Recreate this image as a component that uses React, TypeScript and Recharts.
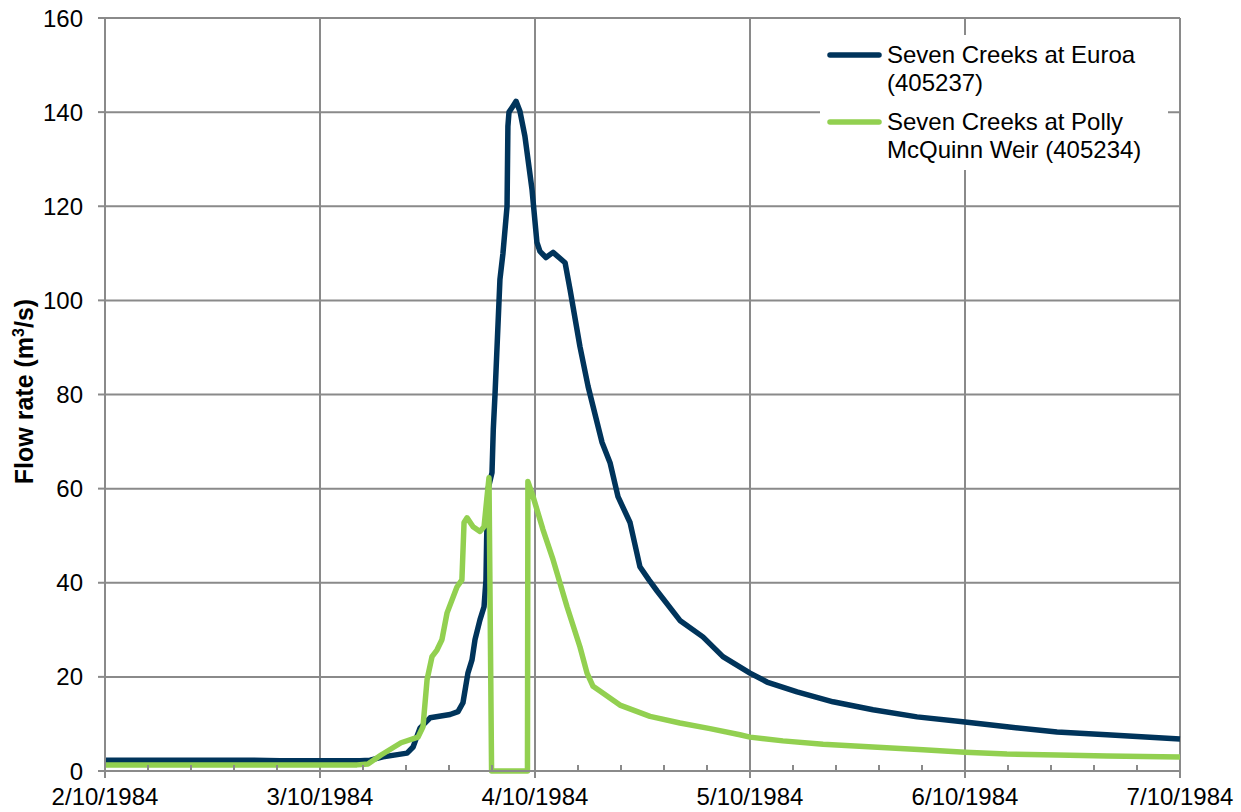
import { CartesianGrid, Legend, Line, LineChart, XAxis, YAxis } from "recharts";

const dateLabels = ["2/10/1984", "3/10/1984", "4/10/1984", "5/10/1984", "6/10/1984", "7/10/1984"];
const majorDays = [0, 1, 2, 3, 4, 5];
const minorDays = Array.from({ length: 26 }, (_, i) => i / 5);
const flowTicks = [0, 20, 40, 60, 80, 100, 120, 140, 160];

// time in days after 2/10/1984 00:00, flow in m3/s
const euroaDays = [
  0, 0.674, 0.814, 1.186, 1.233, 1.293, 1.405, 1.433, 1.465, 1.512, 1.605, 1.642, 1.665, 1.688, 1.707,
  1.721, 1.744, 1.763, 1.772, 1.775, 1.781, 1.8, 1.806, 1.814, 1.837, 1.851, 1.87, 1.874, 1.879, 1.898,
  1.912, 1.93, 1.953, 1.986, 2.009, 2.023, 2.051, 2.084, 2.14, 2.163, 2.209, 2.247, 2.312, 2.349, 2.386,
  2.442, 2.488, 2.53, 2.567, 2.674, 2.781, 2.874, 3.0, 3.079, 3.219, 3.386, 3.572, 3.777, 4.0, 4.195, 4.428,
  4.66, 5.0,
];
const euroaFlow = [
  2.3, 2.3, 2.2, 2.2, 2.3, 3.0, 3.8, 5.1, 9.1, 11.3, 12.0, 12.6, 14.5, 20.8, 23.6,
  27.9, 32.1, 34.9, 40.6, 49.0, 59.8, 63.4, 72.6, 80.0, 104.5, 110.0, 120.0, 137.0, 140.0, 141.3,
  142.3, 140.2, 134.9, 123.6, 112.3, 110.4, 109.1, 110.2, 108.0, 102.3, 90.2, 81.7, 69.8, 65.5, 58.3,
  52.8, 43.4, 40.6, 38.3, 32.0, 28.5, 24.3, 20.8, 18.9, 16.8, 14.7, 13.0, 11.5, 10.4, 9.4, 8.3,
  7.7, 6.8,
];

const pollyDays = [
  0, 1.172, 1.223, 1.284, 1.377, 1.456, 1.479, 1.498, 1.521, 1.544, 1.567, 1.591, 1.637, 1.66, 1.67,
  1.684, 1.712, 1.744, 1.763, 1.777, 1.786, 1.798, 1.965, 1.967, 1.991, 2.037, 2.084, 2.149, 2.209,
  2.242, 2.27, 2.302, 2.395, 2.535, 2.674, 2.814, 2.953, 3.0, 3.153, 3.34, 3.572, 3.805, 4.0, 4.195,
  4.428, 4.66, 5.0,
];
const pollyFlow = [
  1.3, 1.3, 1.5, 3.4, 6.0, 7.2, 9.4, 19.4, 24.3, 25.7, 27.9, 33.6, 39.1, 40.6, 52.8,
  53.8, 51.9, 50.9, 51.9, 58.3, 62.3, 0, 0, 61.5, 58.3, 51.3, 44.9, 34.9, 26.4,
  20.8, 18.0, 17.0, 14.0, 11.6, 10.2, 9.0, 7.7, 7.2, 6.4, 5.7, 5.1, 4.5, 4.0, 3.6,
  3.4, 3.2, 3.0,
];

const euroa = euroaDays.map((t, i) => ({ t, q: euroaFlow[i] }));
const polly = pollyDays.map((t, i) => ({ t, q: pollyFlow[i] }));

const series = [
  { name: "Seven Creeks at Euroa (405237)", color: "#00345b" },
  { name: "Seven Creeks at Polly McQuinn Weir (405234)", color: "#92d050" },
];

const gridColor = "#8a8a8a";

function DayTick(props: any) {
  const { x, y, payload } = props;
  const v = payload.value;
  const idx = Math.round(v);
  if (Math.abs(v - idx) > 1e-6) {
    return <line x1={x} x2={x} y1={y} y2={y - 6} stroke={gridColor} strokeWidth={2} />;
  }
  return (
    <g>
      <line x1={x} x2={x} y1={y} y2={y + 7} stroke={gridColor} strokeWidth={2} />
      <text x={x} y={y + 34} textAnchor="middle" fontSize={24} fill="#000">
        {dateLabels[idx]}
      </text>
    </g>
  );
}

function YTitle(props: any) {
  const { viewBox } = props;
  const cy = viewBox.y + viewBox.height / 2 - 3;
  const x = 33;
  return (
    <text x={x} y={cy} transform={`rotate(-90, ${x}, ${cy})`} textAnchor="middle" fontSize={25} fontWeight="bold" fill="#000">
      Flow rate (m<tspan dy={-9} fontSize={16}>3</tspan>
      <tspan dy={9}>/s)</tspan>
    </text>
  );
}

function LegendBox() {
  return (
    <div style={{ background: "#fff", width: 348, height: 135, boxSizing: "border-box", padding: "6px 0" }}>
      {series.map((s, i) => (
        <div key={s.name} style={{ display: "flex", alignItems: "flex-start", marginTop: i ? 11 : 0 }}>
          <svg width={55} height={28} style={{ marginLeft: 7, marginRight: 5, flex: "none" }}>
            <line x1={3} x2={52} y1={14} y2={14} stroke={s.color} strokeWidth={5.5} strokeLinecap="round" />
          </svg>
          <div style={{ fontSize: 24, lineHeight: "28px", color: "#000", width: 281 }}>{s.name}</div>
        </div>
      ))}
    </div>
  );
}

export default function App() {
  return (
    <div style={{ position: "absolute", left: 0, top: 0, fontFamily: '"Liberation Sans", Arial, sans-serif' }}>
      <LineChart width={1241} height={812} margin={{ top: 18, right: 61, left: 0, bottom: 0 }}>
        <CartesianGrid stroke={gridColor} strokeWidth={2} verticalValues={majorDays} horizontalValues={flowTicks} />
        <XAxis
          type="number"
          dataKey="t"
          domain={[0, 5]}
          ticks={minorDays}
          interval={0}
          height={41}
          tickSize={0}
          tickMargin={0}
          tickLine={false}
          axisLine={{ stroke: gridColor, strokeWidth: 2 }}
          tick={<DayTick />}
          allowDuplicatedCategory={false}
        />
        <YAxis
          type="number"
          domain={[0, 160]}
          ticks={flowTicks}
          interval={0}
          width={105}
          tickSize={7}
          tickMargin={15}
          axisLine={{ stroke: gridColor, strokeWidth: 2 }}
          tickLine={{ stroke: gridColor, strokeWidth: 2 }}
          tick={{ fontSize: 24, fill: "#000" }}
          label={<YTitle />}
        />
        <Legend
          layout="vertical"
          align="center"
          verticalAlign="middle"
          wrapperStyle={{ top: 35, left: 820, width: 348, height: 135 }}
          content={<LegendBox />}
        />
        <Line
          data={euroa}
          dataKey="q"
          name={series[0].name}
          type="linear"
          stroke={series[0].color}
          strokeWidth={5.5}
          strokeLinejoin="round"
          dot={false}
          activeDot={false}
          isAnimationActive={false}
        />
        <Line
          data={polly}
          dataKey="q"
          name={series[1].name}
          type="linear"
          stroke={series[1].color}
          strokeWidth={5.5}
          strokeLinejoin="round"
          dot={false}
          activeDot={false}
          isAnimationActive={false}
        />
      </LineChart>
    </div>
  );
}
